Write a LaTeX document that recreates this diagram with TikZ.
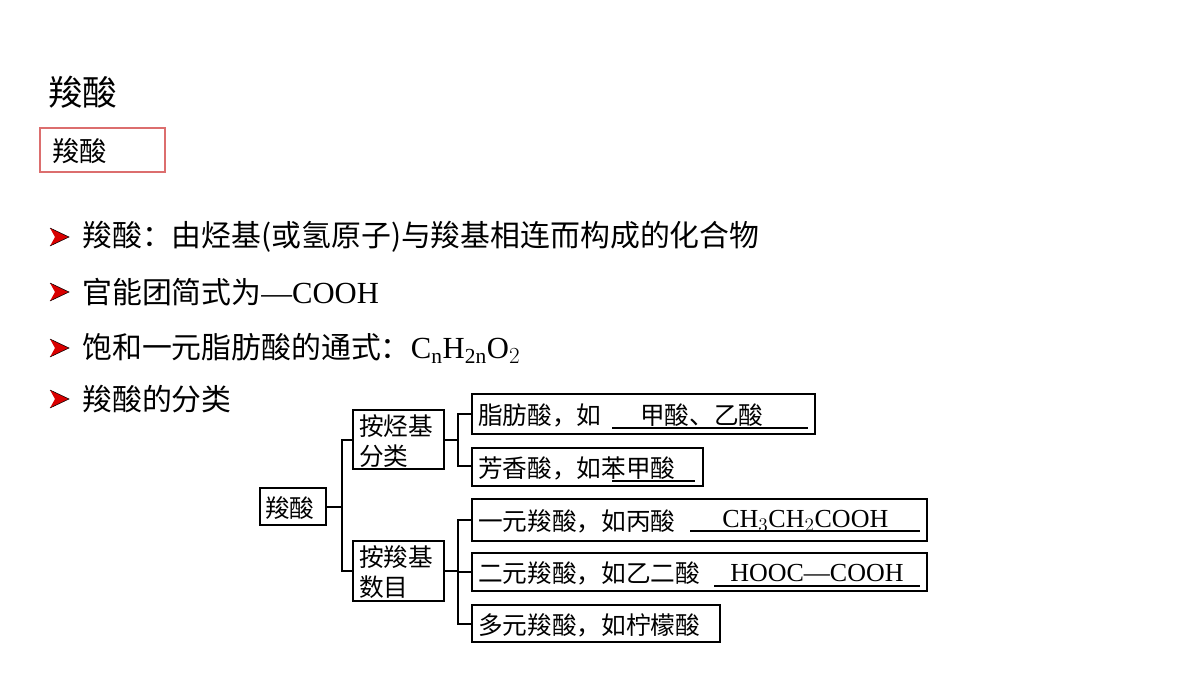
\documentclass[tikz,border=0pt]{standalone}
\usepackage{fontspec}
\setmainfont{Liberation Serif}
\newfontfamily\cjk{Noto Sans CJK SC}
\begin{document}
\begin{tikzpicture}[x=0.75pt,y=-0.75pt,
  bx/.style={draw,line width=1.3pt,inner sep=0pt},
  tx/.style={anchor=west,inner sep=0pt,font=\cjk\fontsize{18.5}{21}\selectfont},
  fx/.style={anchor=west,inner sep=0pt,font=\rmfamily\fontsize{19.5}{22}\selectfont},
  bt/.style={anchor=west,inner sep=0pt,font=\cjk\fontsize{22.4}{24}\selectfont},
  ln/.style={line width=1.3pt},
  ul/.style={line width=1.2pt}]
\useasboundingbox (0,0) rectangle (1200,675);
\node[anchor=west,inner sep=0pt,font=\cjk\fontsize{26}{28}\selectfont] (title) at (48,92) {羧酸};
\draw[draw={rgb,255:red,220;green,110;blue,110},line width=0.8pt] (40,128) rectangle (165,172);
\node[anchor=west,inner sep=0pt,font=\cjk\fontsize{20.5}{22}\selectfont] (boxt) at (52,151) {羧酸};
\foreach \y/\n in {237/b1,292/b2,348/b3,399/b4}{
  \fill[red!85!black] (50,\y-9) -- (69,\y) -- (50,\y+9) -- (55,\y) -- cycle;
  \draw[line width=0.4pt] (50,\y-9) -- (69,\y) -- (50,\y+9);
}
\node[bt] (t1) at (82,237) {羧酸：由烃基(或氢原子)与羧基相连而构成的化合物};
\node[bt] (t2) at (82,292) {官能团简式为{\rmfamily\fontsize{23}{24}\selectfont—COOH}};
\node[bt] (t3) at (82,348) {饱和一元脂肪酸的通式：{\rmfamily\fontsize{23}{24}\selectfont C$_{\mathrm n}$H$_{\mathrm{2n}}$O$_2$}};
\node[bt] (t4) at (82,399) {羧酸的分类};
% boxes
\draw[bx] (260,488) rectangle (326,525); \node[tx] (r) at (265,508) {羧酸};
\draw[bx] (353,410) rectangle (444,469); \node[tx,align=left,font=\cjk\fontsize{18.5}{22}\selectfont] (a) at (359,441) {按烃基\\分类};
\draw[bx] (353,541) rectangle (444,601); \node[tx,align=left,font=\cjk\fontsize{18.5}{22}\selectfont] (b) at (359,572) {按羧基\\数目};
\draw[bx] (472,394) rectangle (815,434); \node[tx] (a1) at (478,415) {脂肪酸，如};
\node[tx] (a1x) at (640,415) {甲酸、乙酸};
\draw[bx] (472,448) rectangle (703,486); \node[tx] (a2) at (478,468) {芳香酸，如苯甲酸};
\draw[bx] (472,499) rectangle (927,541); \node[tx] (b1) at (478,521) {一元羧酸，如丙酸};
\node[fx] (b1x) at (722,521) {CH$_3$CH$_2$COOH};
\draw[bx] (472,553) rectangle (927,591); \node[tx] (b2) at (478,573) {二元羧酸，如乙二酸};
\node[fx] (b2x) at (730,573) {HOOC—COOH};
\draw[bx] (472,605) rectangle (720,642); \node[tx] (b3) at (478,625) {多元羧酸，如柠檬酸};
% underlines
\draw[ul] (612,428) -- (808,428);
\draw[ul] (612,481) -- (695,481);
\draw[ul] (690,531) -- (920,531);
\draw[ul] (714,586) -- (920,586);
% connectors
\draw[ln] (326,507) -- (342,507);
\draw[ln] (353,440) -- (342,440) -- (342,571) -- (353,571);
\draw[ln] (444,440) -- (458,440);
\draw[ln] (472,414) -- (458,414) -- (458,466) -- (472,466);
\draw[ln] (444,571) -- (458,571);
\draw[ln] (472,520) -- (458,520) -- (458,624) -- (472,624);
\draw[ln] (458,572) -- (472,572);
\end{tikzpicture}
\end{document}
